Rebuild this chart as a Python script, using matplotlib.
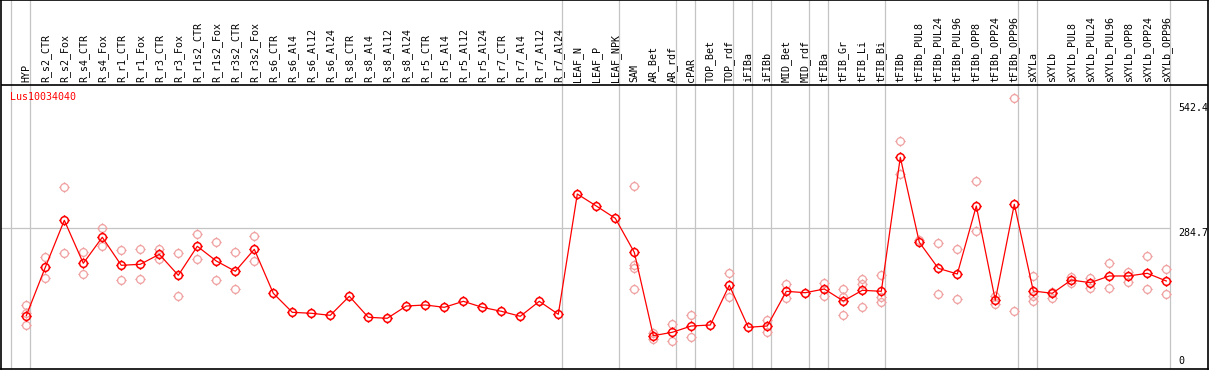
import numpy as np
import matplotlib
matplotlib.use("Agg")
import matplotlib.pyplot as plt
from matplotlib.path import Path

gene = "Lus10034040"

samples = ["HYP", "R_s2_CTR", "R_s2_Fox", "R_s4_CTR", "R_s4_Fox", "R_r1_CTR", "R_r1_Fox",
           "R_r3_CTR", "R_r3_Fox", "R_r1s2_CTR", "R_r1s2_Fox", "R_r3s2_CTR", "R_r3s2_Fox",
           "R_s6_CTR", "R_s6_Al4", "R_s6_Al12", "R_s6_Al24", "R_s8_CTR", "R_s8_Al4",
           "R_s8_Al12", "R_s8_Al24", "R_r5_CTR", "R_r5_Al4", "R_r5_Al12", "R_r5_Al24",
           "R_r7_CTR", "R_r7_Al4", "R_r7_Al12", "R_r7_Al24", "LEAF_N", "LEAF_P", "LEAF_NPK",
           "SAM", "AR_Bet", "AR_rdf", "cPAR", "TOP_Bet", "TOP_rdf", "iFIBa", "iFIBb",
           "MID_Bet", "MID_rdf", "tFIBa", "tFIB_Gr", "tFIB_Li", "tFIB_Bi", "tFIBb",
           "tFIBb_PUL8", "tFIBb_PUL24", "tFIBb_PUL96", "tFIBb_OPP8", "tFIBb_OPP24",
           "tFIBb_OPP96", "sXYLa", "sXYLb", "sXYLb_PUL8", "sXYLb_PUL24", "sXYLb_PUL96",
           "sXYLb_OPP8", "sXYLb_OPP24", "sXYLb_OPP96"]

means = [103.7, 203.5, 300.4, 211.8, 265.4, 207.6, 209.7, 230.3, 187.0, 246.8,
         216.5, 195.3, 240.6, 149.9, 110.7, 108.7, 104.5, 143.7, 100.4, 98.4,
         123.7, 125.8, 121.0, 133.4, 121.0, 112.8, 102.5, 133.4, 106.6, 354.6,
         329.9, 304.5, 234.4, 62.5, 69.5, 82.5, 84.5, 166.4, 79.8, 82.5,
         154.0, 151.1, 158.8, 134.0, 156.1, 154.0, 430.3, 255.1, 201.4, 189.7,
         329.9, 135.5, 333.4, 154.6, 149.9, 177.3, 171.8, 185.6, 185.6, 191.1,
         175.3]

replicates = [
    [125.8, 109.3, 84.5], [225.4, 180.8], [368.5, 232.4], [234.4, 189.1], [283.9, 248.0],
    [238.6, 176.7], [240.6, 178.8], [240.6, 221.2], [232.4, 143.7], [271.5, 220.0],
    [255.1, 176.7], [234.4, 158.1], [267.4, 215.9],
    [], [], [], [], [], [], [], [], [], [], [], [], [], [], [], [], [], [], [],
    [371.1, 208.2, 201.4, 158.1], [67.4, 55.7], [86.6, 52.2], [105.2, 59.2], [],
    [191.1, 141.6], [], [94.8, 69.5], [168.5, 139.6], [], [170.5, 144.3],
    [158.8, 142.9, 105.2], [179.4, 168.5, 121.0], [187.6, 141.6, 131.3],
    [463.9, 395.9], [259.8], [253.0, 147.8], [240.6, 137.5], [381.4, 278.4],
    [144.3, 127.2], [552.0, 113.4], [185.6, 144.3, 134.0], [153.2, 140.8],
    [182.9, 170.5], [180.8, 161.4], [212.4, 160.2], [194.4, 173.8], [226.8, 158.1],
    [200.0, 147.8]]

# index of the first sample in each group
group_starts = [0, 1, 29, 32, 35, 36, 38, 39, 40, 42, 43, 46, 53, 54, 61]
ticks = [542.4, 284.7, 0]

# pixel geometry of the original
W, H = 1209, 370
ppu = 0.485      # pixels per unit
zero_px = 366    # pixel row of value 0
x0_px, step_px = 26.3, 19.0

def px_to_val(py):
    return (zero_px - py) / ppu

def px_to_x(px):
    return (px - x0_px) / step_px

# circle marker with four little ticks
circ = Path.circle((0, 0), 1.0, readonly=False)
verts = list(circ.vertices)
codes = list(circ.codes)
for dx, dy in [(1, 0), (-1, 0), (0, 1), (0, -1)]:
    verts += [(dx * 1.0, dy * 1.0), (dx * 1.35, dy * 1.35)]
    codes += [Path.MOVETO, Path.LINETO]
marker = Path(verts, codes)

plt.rcParams['font.family'] = ['DejaVu Sans Mono']
fig = plt.figure(figsize=(W / 100, H / 100), dpi=100)
ax = fig.add_axes([1 / W, 1 - 369 / H, 1206.5 / W, 369 / H])
ax.set_xlim(px_to_x(1), px_to_x(1207.5))
ax.set_ylim(px_to_val(369), px_to_val(0))
ax.set_xticks([])
ax.set_yticks([])
for s in ax.spines.values():
    s.set_color("black")
    s.set_linewidth(1.2)

grey = "#c4c4c4"
for g in group_starts:
    ax.axvline(g - 0.8, color=grey, lw=0.9, zorder=1)
ax.hlines(ticks[1], px_to_x(1), group_starts[-1] - 0.8, color=grey, lw=0.9, zorder=1)
ax.axhline(px_to_val(85), color="black", lw=1.2, zorder=2)

x = np.arange(len(samples))
for i, reps in enumerate(replicates):
    if reps:
        ax.plot([i] * len(reps), reps, linestyle="none", marker=marker, markersize=7.5,
                markerfacecolor="none", markeredgecolor="#f0a0a0", markeredgewidth=0.9, zorder=3)
ax.plot(x, means, color="#ff0000", lw=0.9, marker=marker, markersize=7.5,
        markerfacecolor="none", markeredgecolor="#ff0000", markeredgewidth=1.1, zorder=4)

for i, name in enumerate(samples):
    ax.text(i, px_to_val(82), name, rotation=90, ha="center", va="bottom",
            fontsize=7.2, color="black")

ax.text(px_to_x(10), px_to_val(92), gene, ha="left", va="top", fontsize=7.2, color="#ff0000")

for t in ticks:
    ax.text(px_to_x(1178), t, f"{t:g}", ha="left", va="bottom" if t == 0 else "top",
            fontsize=7.2, color="black")

fig.savefig("out.png", dpi=100)
